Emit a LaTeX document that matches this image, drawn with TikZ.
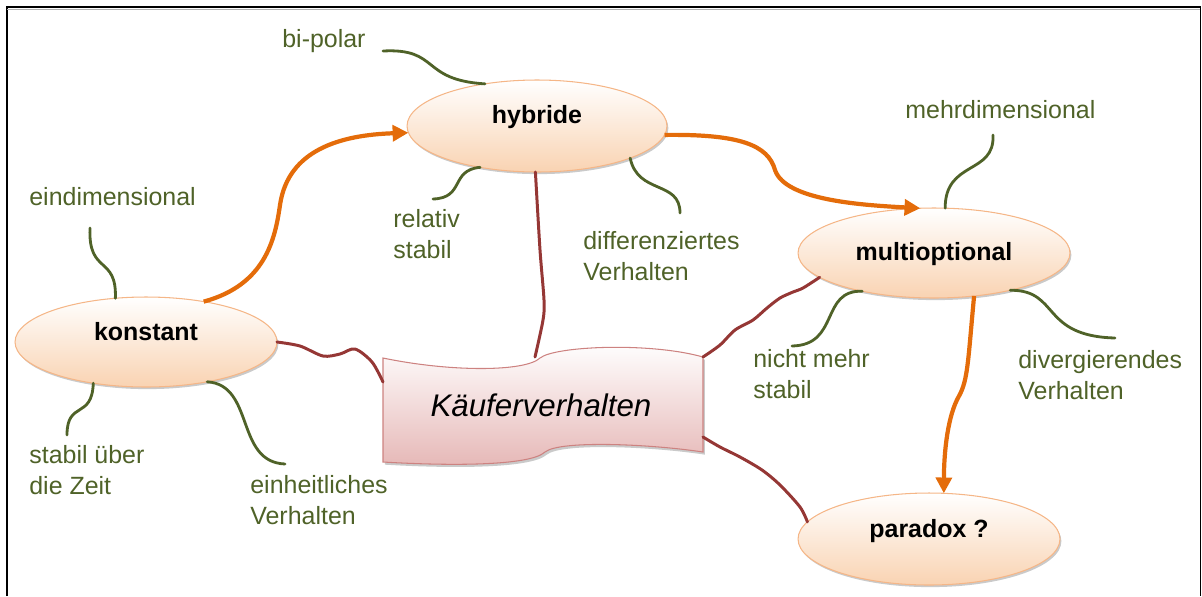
\documentclass[tikz,border=0pt]{standalone}
\usepackage{fontspec}
\setmainfont{Liberation Sans}
\usetikzlibrary{shapes.geometric,arrows.meta,shadows}
\definecolor{lgreen}{RGB}{79,98,40}
\definecolor{lorange}{RGB}{228,108,10}
\definecolor{lred}{RGB}{149,55,53}
\definecolor{peach}{RGB}{249,211,178}
\definecolor{peachb}{RGB}{245,182,135}
\definecolor{pinkf}{RGB}{230,184,183}
\definecolor{pinkb}{RGB}{205,130,128}
\tikzset{
  blob/.style={ellipse, draw=peachb, line width=0.6pt, top color=white, bottom color=peach,
    inner sep=0pt, outer sep=0pt, font=\bfseries\fontsize{14.2}{17}\selectfont,
    drop shadow={shadow xshift=0.8pt, shadow yshift=-1.2pt, opacity=0.35, fill=black!60}},
  lbl/.style={anchor=west, inner sep=0pt, align=left, text=lgreen, font=\fontsize{14.2}{18}\selectfont},
  gline/.style={draw=lgreen, line width=1.6pt, line cap=round},
  rline/.style={draw=lred, line width=1.7pt, line cap=round, line join=round},
  oarrow/.style={draw=lorange, line width=2.4pt, -{Triangle[length=9pt,width=9pt]}},
}
\begin{document}
\begin{tikzpicture}[x=0.02cm, y=-0.02cm]
\useasboundingbox (0,0) rectangle (1202,596);
% frame
\draw[line width=1.7pt] (7,596) -- (7,6.5);
\draw[black!30, line width=0.6pt] (7,9.2) -- (1199.5,9.2);
\draw[line width=1.3pt] (6,7) -- (1200.5,7);
\draw[line width=0.9pt] (1200.5,6.5) -- (1200.5,596);

% ellipses
\node[blob, minimum width=5.24cm, minimum height=1.8cm] (k) at (146,342) {\raisebox{1.1pt}[0pt][0pt]{konstant}};
\node[blob, minimum width=5.2cm, minimum height=1.84cm] (h) at (537,126) {\raisebox{1.7pt}[0pt][0pt]{hybride}};
\node[blob, minimum width=5.44cm, minimum height=1.8cm] (m) at (934,253) {\raisebox{-4.5pt}[0pt][0pt]{multioptional}};
\node[blob, minimum width=5.24cm, minimum height=1.84cm] (p) at (929,539) {\raisebox{0.6pt}[0pt][0pt]{paradox ?}};

% central wave shape
\path[draw=pinkb, line width=0.6pt, top color=white, bottom color=pinkf,
  drop shadow={shadow xshift=1pt, shadow yshift=-1.5pt, opacity=0.35, fill=black!60}]
  (383,358) .. controls (450,372) and (525,372) .. (540,358)
  .. controls (555,346) and (650,342) .. (703,357)
  -- (703,452)
  .. controls (650,444) and (560,440) .. (545,452)
  .. controls (530,466) and (450,466) .. (383,462) -- cycle;
\node[inner sep=0pt, font=\itshape\fontsize{17.8}{20}\selectfont] (kv) at (541,405) {Käuferverhalten};
\coordinate (kvL) at (383,382);
\coordinate (kvT) at (535,357);
\coordinate (kvR1) at (703,357);
\coordinate (kvR2) at (703,437);

% labels
\node[lbl] (l1) at (282,41) {bi-polar};
\node[lbl] (l2) at (29,197) {eindimensional};
\node[lbl] (l3) at (393,234) {relativ\\stabil};
\node[lbl] (l4) at (583,256) {differenziertes\\Verhalten};
\node[lbl] (l5) at (905,110) {mehrdimensional};
\node[lbl] (l6) at (753,374) {nicht mehr\\stabil};
\node[lbl] (l7) at (1018,375) {divergierendes\\Verhalten};
\node[lbl] (l8) at (29,470) {stabil über\\die Zeit};
\node[lbl] (l9) at (250,500) {einheitliches\\Verhalten};

% green connectors
\coordinate (g1) at (383,51);
\coordinate (g2) at (90,228);
\coordinate (g3) at (433,199);
\coordinate (g4) at (680,213);
\coordinate (g5) at (993,135);
\coordinate (g6) at (792,346);
\coordinate (g7) at (1115,338);
\coordinate (g8) at (67,435);
\coordinate (g9) at (285,464);
\draw[gline] (g1) .. controls (440,48) and (420,80) .. (h.141);
\draw[gline] (g2) .. controls (88,275) and (117,255) .. (k.125);
\draw[gline] (h.216) .. controls (450,170) and (465,198) .. (g3);
\draw[gline] (h.-19) .. controls (638,195) and (680,180) .. (g4);
\draw[gline] (g5) .. controls (995,175) and (945,160) .. (m.76);
\draw[gline] (m.208) .. controls (820,290) and (840,345) .. (g6);
\draw[gline] (m.-26) .. controls (1060,290) and (1040,336) .. (g7);
\draw[gline] (k.218) .. controls (92,420) and (67,400) .. (g8);
\draw[gline] (k.-33) .. controls (255,385) and (235,462) .. (g9);

% orange arrows
\draw[oarrow] (k.35) .. controls (265,285) and (275,240) .. (280,205)
  .. controls (288,150) and (340,135) .. (h.183);
\draw[oarrow] (h.-4) .. controls (740,134) and (768,145) .. (775,170)
  .. controls (785,200) and (860,205) .. (m.107);
\draw[oarrow] (m.-47) .. controls (968,360) and (968,380) .. (959,396)
  .. controls (948,415) and (944,450) .. (p.72);

% red connectors
\draw[rline] plot[smooth, tension=0.5] coordinates {(k.east) (300,346) (323,356) (340,354) (355,349) (372,362) (kvL)};
\draw[rline] plot[smooth, tension=0.5] coordinates {(h.-92) (540,250) (544,300) (543,320) (kvT)};
\draw[rline] plot[smooth, tension=0.5] coordinates {(kvR1) (720,345) (735,330) (753,320) (767,308) (780,298) (793,292) (803,288) (m.192)};
\draw[rline] plot[smooth, tension=0.5] coordinates {(kvR2) (720,447) (740,457) (762,470) (780,485) (800,507) (p.172)};
\end{tikzpicture}
\end{document}
